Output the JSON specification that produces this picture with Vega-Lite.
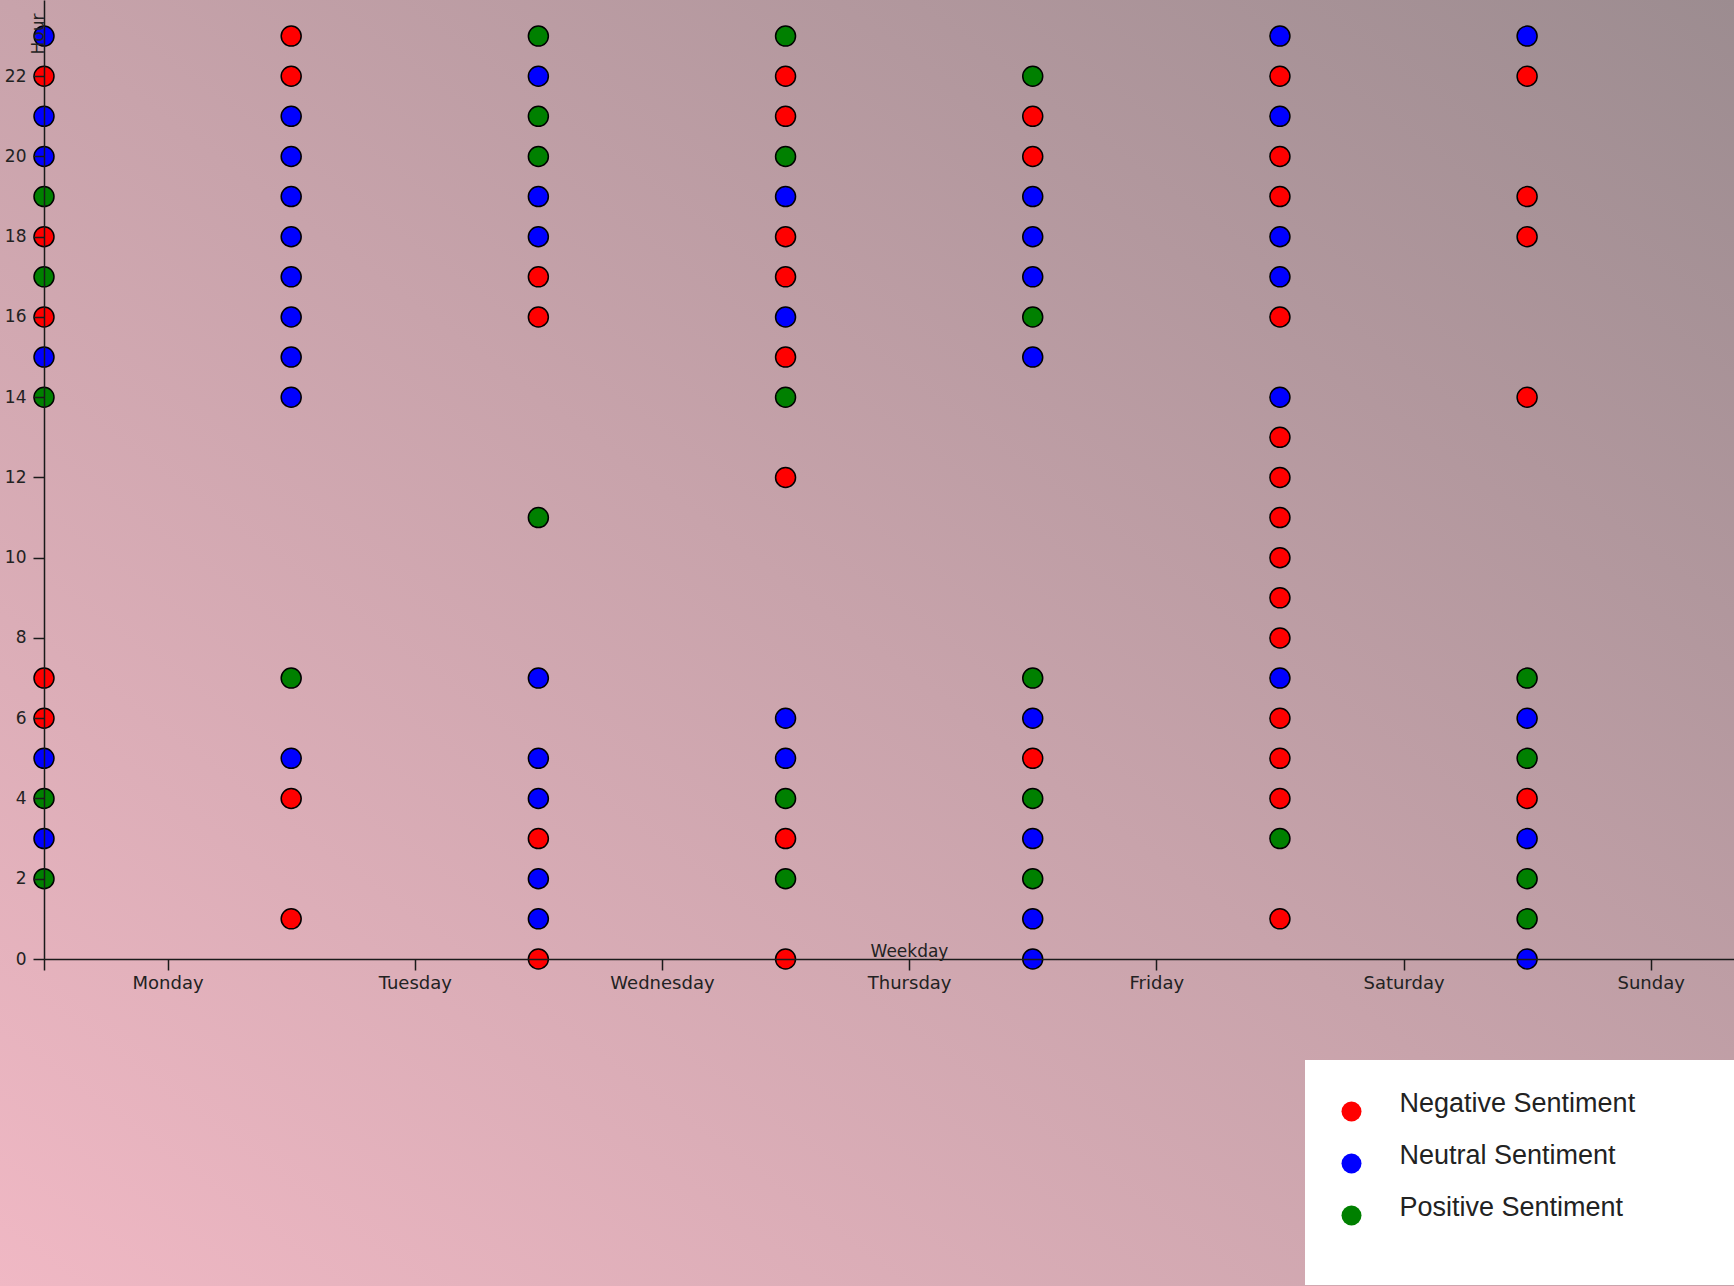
{
  "$schema": "https://vega.github.io/schema/vega-lite/v6.json",
  "autosize": {"type": "none"},
  "padding": {"left": 44, "top": 0, "right": 0, "bottom": 327},
  "width": 1690,
  "height": 959,
  "background": "#c8a4ac",
  "config": {
    "view": {"stroke": null},
    "axis": {
      "labelFont": "DejaVu Sans", "labelFontSize": 17, "labelColor": "#222222",
      "titleFont": "DejaVu Sans", "titleFontSize": 17, "titleFontWeight": "normal", "titleColor": "#222222",
      "domainColor": "#1a1a1a", "domainWidth": 1.5, "tickColor": "#1a1a1a", "tickWidth": 1.5, "tickSize": 11,
      "grid": false, "zindex": 1
    }
  },
  "layer": [
    {
      "data": {"values": [{}]},
      "mark": {
        "type": "rect",
        "clip": false,
        "color": {
          "gradient": "linear", "x1": 0, "y1": 1, "x2": 1, "y2": 0,
          "stops": [
            {"offset": 0, "color": "#f0b8c4"},
            {"offset": 0.5, "color": "#c8a3ab"},
            {"offset": 1, "color": "#9c8c90"}
          ]
        }
      },
      "encoding": {
        "x": {"datum": -0.178, "type": "quantitative", "scale": {"domain": [0, 6.837], "nice": false, "zero": false},
              "axis": {"zindex": 1, "values": [0, 0.5, 1.5, 2.5, 3.5, 4.5, 5.5, 6.5], "labelExpr": "datum.value < 0.4 ? '' : ['Monday','Tuesday','Wednesday','Thursday','Friday','Saturday','Sunday'][floor(datum.value)]", "labelFontSize": 18, "labelPadding": 4, "title": "Weekday", "titleX": 865, "titleY": -3, "titleBaseline": "alphabetic", "titleAnchor": null, "titleAlign": "center"}},
        "x2": {"datum": 6.84},
        "y": {"datum": -8.3, "type": "quantitative", "scale": {"domain": [0, 23.9], "nice": false, "zero": false},
              "axis": {"zindex": 1, "values": [0, 2, 4, 6, 8, 10, 12, 14, 16, 18, 20, 22], "labelPadding": 7, "title": "Hour", "titleAngle": 270, "titleX": -1, "titleY": 13, "titleAlign": "right", "titleBaseline": "alphabetic", "titleAnchor": null}},
        "y2": {"datum": 23.95}
      }
    },
    {
      "data": {"values": [
        {"day": 0, "hour": 23, "sentiment": "Neutral Sentiment"},
        {"day": 0, "hour": 22, "sentiment": "Negative Sentiment"},
        {"day": 0, "hour": 21, "sentiment": "Neutral Sentiment"},
        {"day": 0, "hour": 20, "sentiment": "Neutral Sentiment"},
        {"day": 0, "hour": 19, "sentiment": "Positive Sentiment"},
        {"day": 0, "hour": 18, "sentiment": "Negative Sentiment"},
        {"day": 0, "hour": 17, "sentiment": "Positive Sentiment"},
        {"day": 0, "hour": 16, "sentiment": "Negative Sentiment"},
        {"day": 0, "hour": 15, "sentiment": "Neutral Sentiment"},
        {"day": 0, "hour": 14, "sentiment": "Positive Sentiment"},
        {"day": 0, "hour": 7, "sentiment": "Negative Sentiment"},
        {"day": 0, "hour": 6, "sentiment": "Negative Sentiment"},
        {"day": 0, "hour": 5, "sentiment": "Neutral Sentiment"},
        {"day": 0, "hour": 4, "sentiment": "Positive Sentiment"},
        {"day": 0, "hour": 3, "sentiment": "Neutral Sentiment"},
        {"day": 0, "hour": 2, "sentiment": "Positive Sentiment"},
        {"day": 1, "hour": 23, "sentiment": "Negative Sentiment"},
        {"day": 1, "hour": 22, "sentiment": "Negative Sentiment"},
        {"day": 1, "hour": 21, "sentiment": "Neutral Sentiment"},
        {"day": 1, "hour": 20, "sentiment": "Neutral Sentiment"},
        {"day": 1, "hour": 19, "sentiment": "Neutral Sentiment"},
        {"day": 1, "hour": 18, "sentiment": "Neutral Sentiment"},
        {"day": 1, "hour": 17, "sentiment": "Neutral Sentiment"},
        {"day": 1, "hour": 16, "sentiment": "Neutral Sentiment"},
        {"day": 1, "hour": 15, "sentiment": "Neutral Sentiment"},
        {"day": 1, "hour": 14, "sentiment": "Neutral Sentiment"},
        {"day": 1, "hour": 7, "sentiment": "Positive Sentiment"},
        {"day": 1, "hour": 5, "sentiment": "Neutral Sentiment"},
        {"day": 1, "hour": 4, "sentiment": "Negative Sentiment"},
        {"day": 1, "hour": 1, "sentiment": "Negative Sentiment"},
        {"day": 2, "hour": 23, "sentiment": "Positive Sentiment"},
        {"day": 2, "hour": 22, "sentiment": "Neutral Sentiment"},
        {"day": 2, "hour": 21, "sentiment": "Positive Sentiment"},
        {"day": 2, "hour": 20, "sentiment": "Positive Sentiment"},
        {"day": 2, "hour": 19, "sentiment": "Neutral Sentiment"},
        {"day": 2, "hour": 18, "sentiment": "Neutral Sentiment"},
        {"day": 2, "hour": 17, "sentiment": "Negative Sentiment"},
        {"day": 2, "hour": 16, "sentiment": "Negative Sentiment"},
        {"day": 2, "hour": 11, "sentiment": "Positive Sentiment"},
        {"day": 2, "hour": 7, "sentiment": "Neutral Sentiment"},
        {"day": 2, "hour": 5, "sentiment": "Neutral Sentiment"},
        {"day": 2, "hour": 4, "sentiment": "Neutral Sentiment"},
        {"day": 2, "hour": 3, "sentiment": "Negative Sentiment"},
        {"day": 2, "hour": 2, "sentiment": "Neutral Sentiment"},
        {"day": 2, "hour": 1, "sentiment": "Neutral Sentiment"},
        {"day": 2, "hour": 0, "sentiment": "Negative Sentiment"},
        {"day": 3, "hour": 23, "sentiment": "Positive Sentiment"},
        {"day": 3, "hour": 22, "sentiment": "Negative Sentiment"},
        {"day": 3, "hour": 21, "sentiment": "Negative Sentiment"},
        {"day": 3, "hour": 20, "sentiment": "Positive Sentiment"},
        {"day": 3, "hour": 19, "sentiment": "Neutral Sentiment"},
        {"day": 3, "hour": 18, "sentiment": "Negative Sentiment"},
        {"day": 3, "hour": 17, "sentiment": "Negative Sentiment"},
        {"day": 3, "hour": 16, "sentiment": "Neutral Sentiment"},
        {"day": 3, "hour": 15, "sentiment": "Negative Sentiment"},
        {"day": 3, "hour": 14, "sentiment": "Positive Sentiment"},
        {"day": 3, "hour": 12, "sentiment": "Negative Sentiment"},
        {"day": 3, "hour": 6, "sentiment": "Neutral Sentiment"},
        {"day": 3, "hour": 5, "sentiment": "Neutral Sentiment"},
        {"day": 3, "hour": 4, "sentiment": "Positive Sentiment"},
        {"day": 3, "hour": 3, "sentiment": "Negative Sentiment"},
        {"day": 3, "hour": 2, "sentiment": "Positive Sentiment"},
        {"day": 3, "hour": 0, "sentiment": "Negative Sentiment"},
        {"day": 4, "hour": 22, "sentiment": "Positive Sentiment"},
        {"day": 4, "hour": 21, "sentiment": "Negative Sentiment"},
        {"day": 4, "hour": 20, "sentiment": "Negative Sentiment"},
        {"day": 4, "hour": 19, "sentiment": "Neutral Sentiment"},
        {"day": 4, "hour": 18, "sentiment": "Neutral Sentiment"},
        {"day": 4, "hour": 17, "sentiment": "Neutral Sentiment"},
        {"day": 4, "hour": 16, "sentiment": "Positive Sentiment"},
        {"day": 4, "hour": 15, "sentiment": "Neutral Sentiment"},
        {"day": 4, "hour": 7, "sentiment": "Positive Sentiment"},
        {"day": 4, "hour": 6, "sentiment": "Neutral Sentiment"},
        {"day": 4, "hour": 5, "sentiment": "Negative Sentiment"},
        {"day": 4, "hour": 4, "sentiment": "Positive Sentiment"},
        {"day": 4, "hour": 3, "sentiment": "Neutral Sentiment"},
        {"day": 4, "hour": 2, "sentiment": "Positive Sentiment"},
        {"day": 4, "hour": 1, "sentiment": "Neutral Sentiment"},
        {"day": 4, "hour": 0, "sentiment": "Neutral Sentiment"},
        {"day": 5, "hour": 23, "sentiment": "Neutral Sentiment"},
        {"day": 5, "hour": 22, "sentiment": "Negative Sentiment"},
        {"day": 5, "hour": 21, "sentiment": "Neutral Sentiment"},
        {"day": 5, "hour": 20, "sentiment": "Negative Sentiment"},
        {"day": 5, "hour": 19, "sentiment": "Negative Sentiment"},
        {"day": 5, "hour": 18, "sentiment": "Neutral Sentiment"},
        {"day": 5, "hour": 17, "sentiment": "Neutral Sentiment"},
        {"day": 5, "hour": 16, "sentiment": "Negative Sentiment"},
        {"day": 5, "hour": 14, "sentiment": "Neutral Sentiment"},
        {"day": 5, "hour": 13, "sentiment": "Negative Sentiment"},
        {"day": 5, "hour": 12, "sentiment": "Negative Sentiment"},
        {"day": 5, "hour": 11, "sentiment": "Negative Sentiment"},
        {"day": 5, "hour": 10, "sentiment": "Negative Sentiment"},
        {"day": 5, "hour": 9, "sentiment": "Negative Sentiment"},
        {"day": 5, "hour": 8, "sentiment": "Negative Sentiment"},
        {"day": 5, "hour": 7, "sentiment": "Neutral Sentiment"},
        {"day": 5, "hour": 6, "sentiment": "Negative Sentiment"},
        {"day": 5, "hour": 5, "sentiment": "Negative Sentiment"},
        {"day": 5, "hour": 4, "sentiment": "Negative Sentiment"},
        {"day": 5, "hour": 3, "sentiment": "Positive Sentiment"},
        {"day": 5, "hour": 1, "sentiment": "Negative Sentiment"},
        {"day": 6, "hour": 23, "sentiment": "Neutral Sentiment"},
        {"day": 6, "hour": 22, "sentiment": "Negative Sentiment"},
        {"day": 6, "hour": 19, "sentiment": "Negative Sentiment"},
        {"day": 6, "hour": 18, "sentiment": "Negative Sentiment"},
        {"day": 6, "hour": 14, "sentiment": "Negative Sentiment"},
        {"day": 6, "hour": 7, "sentiment": "Positive Sentiment"},
        {"day": 6, "hour": 6, "sentiment": "Neutral Sentiment"},
        {"day": 6, "hour": 5, "sentiment": "Positive Sentiment"},
        {"day": 6, "hour": 4, "sentiment": "Negative Sentiment"},
        {"day": 6, "hour": 3, "sentiment": "Neutral Sentiment"},
        {"day": 6, "hour": 2, "sentiment": "Positive Sentiment"},
        {"day": 6, "hour": 1, "sentiment": "Positive Sentiment"},
        {"day": 6, "hour": 0, "sentiment": "Neutral Sentiment"}
      ]},
      "mark": {"type": "circle", "size": 400, "opacity": 1, "stroke": "#000000", "strokeWidth": 1.5, "clip": false},
      "encoding": {
        "x": {"field": "day", "type": "quantitative", "scale": {"domain": [0, 6.837], "nice": false, "zero": false},
              "axis": {"zindex": 1, "values": [0, 0.5, 1.5, 2.5, 3.5, 4.5, 5.5, 6.5], "labelExpr": "datum.value < 0.4 ? '' : ['Monday','Tuesday','Wednesday','Thursday','Friday','Saturday','Sunday'][floor(datum.value)]", "labelFontSize": 18, "labelPadding": 4, "title": "Weekday", "titleX": 865, "titleY": -3, "titleBaseline": "alphabetic", "titleAnchor": null, "titleAlign": "center"}},
        "y": {"field": "hour", "type": "quantitative", "scale": {"domain": [0, 23.9], "nice": false, "zero": false},
              "axis": {"zindex": 1, "values": [0, 2, 4, 6, 8, 10, 12, 14, 16, 18, 20, 22], "labelPadding": 7, "title": "Hour", "titleAngle": 270, "titleX": -1, "titleY": 13, "titleAlign": "right", "titleBaseline": "alphabetic", "titleAnchor": null}},
        "color": {
          "field": "sentiment", "type": "nominal",
          "scale": {"domain": ["Negative Sentiment", "Neutral Sentiment", "Positive Sentiment"], "range": ["#ff0000", "#0000ff", "#008000"]},
          "legend": {
            "orient": "none", "legendX": 1261, "legendY": 1060,
            "fillColor": "#ffffff", "padding": 38,
            "title": ["Sentiment", " ", " ", " ", " ", " ", " ", " ", " ", " "], "titleOrient": "right", "titleFontSize": 12, "titleLineHeight": 17.5, "titlePadding": 12, "titleOpacity": 0, "titleLimit": 500,
            "symbolType": "circle", "symbolSize": 400, "symbolStrokeWidth": 0, "symbolOpacity": 1, "symbolOffset": -5,
            "labelFont": "Liberation Sans", "labelFontSize": 27, "labelColor": "#222222", "labelBaseline": "alphabetic",
            "labelOffset": 34.5, "labelLimit": 0, "rowPadding": 19
          }
        }
      }
    }
  ]
}
